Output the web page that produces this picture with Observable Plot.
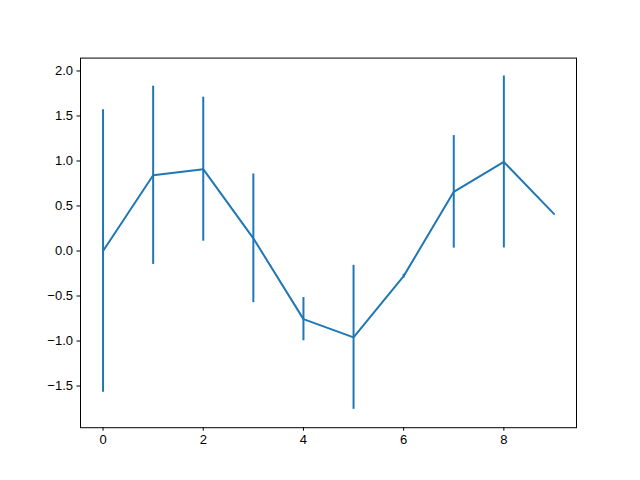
<!DOCTYPE html>
<html>
<head>
<meta charset="utf-8">
<script src="https://cdn.jsdelivr.net/npm/d3@7"></script>
<script src="https://cdn.jsdelivr.net/npm/@observablehq/plot@0.6"></script>
<style>
  html, body { margin: 0; padding: 0; background: #fff; }
  svg { display: block; }
</style>
</head>
<body>
<div id="chart"></div>
<script>
const xValues = [0, 1, 2, 3, 4, 5, 6, 7, 8, 9];
const yValues = [0.0, 0.841, 0.909, 0.141, -0.757, -0.959, -0.279, 0.657, 0.989, 0.412];
const yErrors = [1.57, 0.99, 0.80, 0.715, 0.24, 0.80, 0.02, 0.625, 0.955, 0.0];
const xTicks = [0, 2, 4, 6, 8];
const yTicks = [-1.5, -1.0, -0.5, 0.0, 0.5, 1.0, 1.5, 2.0];

const data = xValues.map((x, i) => ({x, y: yValues[i], e: yErrors[i]}));
const color = "#1f77b4";

const chart = Plot.plot({
  width: 640,
  height: 480,
  marginLeft: 80,
  marginRight: 64,
  marginTop: 57.6,
  marginBottom: 52.8,
  style: {fontFamily: "'Liberation Sans', 'Noto Sans CJK SC', sans-serif", fontSize: "13px", color: "#000", background: "#fff"},
  x: {domain: [-0.45, 9.45]},
  y: {domain: [-1.963, 2.143]},
  marks: [
    Plot.ruleX(data.filter(d => d.e > 0), {x: "x", y1: d => d.y - d.e, y2: d => d.y + d.e, stroke: color, strokeWidth: 2}),
    Plot.line(data, {x: "x", y: "y", stroke: color, strokeWidth: 2}),
    Plot.frame({stroke: "#000", strokeWidth: 1}),
    Plot.axisX({ticks: xTicks, tickSize: 3.5, tickPadding: 4, tickFormat: d3.format("d"), label: null, stroke: "#000", fontSize: 13}),
    Plot.axisY({ticks: yTicks, tickSize: 3.5, tickPadding: 4, tickFormat: d3.format(".1f"), label: null, stroke: "#000", fontSize: 13})
  ]
});
document.getElementById("chart").appendChild(chart);
</script>
</body>
</html>
